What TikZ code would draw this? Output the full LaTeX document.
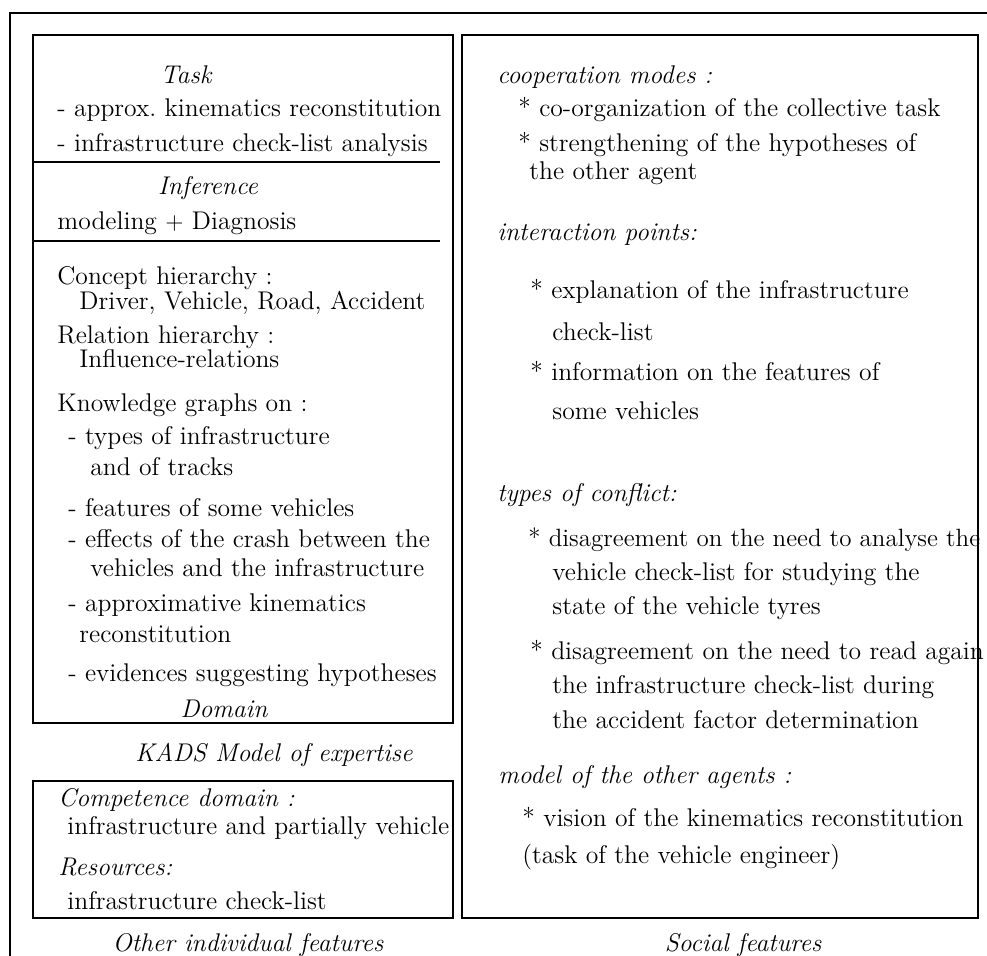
\documentclass[tikz,border=0pt]{standalone}
\usepackage{tikz}
\def\fsz{\fontsize{12.8}{15}\selectfont}
\tikzstyle{txt} = [anchor=west, inner sep=0pt, font=\fsz]
\tikzstyle{hd} = [anchor=west, inner sep=0pt, font=\fsz\itshape]
\tikzstyle{title} = [inner sep=0pt, font=\fsz\itshape]
\tikzstyle{frame} = [draw=black, line width=1.1pt]

\begin{document}
\begin{tikzpicture}[x=0.5pt, y=-0.5pt]
\useasboundingbox (0,0) rectangle (987,956);
\draw [line width=0.8pt] (10,956) -- (10,13) -- (987,13);

% KADS model
\draw [frame] (33,35) rectangle (453,723);
\draw [frame] (33,162) -- (440,162);
\draw [frame] (33,241) -- (440,241);
\node (task) [title] at (186,75) {Task};
\node (approx) [txt] at (57,110) {- approx.\ kinematics reconstitution};
\node (checkan) [txt] at (57,145) {- infrastructure check-list analysis};
\node (inference) [title] at (208,188) {Inference};
\node (modeling) [txt] at (57,223) {modeling $+$ Diagnosis};
\node (concept) [txt] at (57,278) {Concept hierarchy :};
\node (concepts) [txt] at (79,303) {Driver, Vehicle, Road, Accident};
\node (relation) [txt] at (57,337) {Relation hierarchy :};
\node (influence) [txt] at (79,359) {Influence-relations};
\node (graphs) [txt] at (57,405) {Knowledge graphs on :};
\node (types) [txt] at (68,438) {- types of infrastructure};
\node (tracks) [txt] at (90,467) {and of tracks};
\node (features) [txt] at (68,508) {- features of some vehicles};
\node (effects) [txt] at (68,539) {- effects of the crash between the};
\node (effects2) [txt] at (90,568) {vehicles and the infrastructure};
\node (kinem) [txt] at (68,605) {- approximative kinematics};
\node (kinem2) [txt] at (79,634) {reconstitution};
\node (evid) [txt] at (68,675) {- evidences suggesting hypotheses};
\node (domain) [title] at (224,709) {Domain};
\node (kads) [title] at (274,755) {KADS Model of expertise};

% other individual features
\draw [frame] (33,781) rectangle (453,918);
\node (compet) [hd] at (58,800) {Competence domain :};
\node (compet2) [txt] at (67,828) {infrastructure and partially vehicle};
\node (resour) [hd] at (58,867) {Resources:};
\node (resour2) [txt] at (67,901) {infrastructure check-list};
\node (other) [title] at (248,945) {Other individual features};

% social features
\draw [frame] (462,35) rectangle (978,918);
\node (coop) [hd] at (497,77) {cooperation modes :};
\node (coop1) [txt] at (518,110) {* co-organization of the collective task};
\node (coop2) [txt] at (518,145) {* strengthening of the hypotheses of};
\node (coop2b) [txt] at (529,173) {the other agent};
\node (inter) [hd] at (497,235) {interaction points:};
\node (inter1) [txt] at (530,291) {* explanation of the infrastructure};
\node (inter1b) [txt] at (552,332) {check-list};
\node (inter2) [txt] at (530,371) {* information on the features of};
\node (inter2b) [txt] at (552,411) {some vehicles};
\node (confl) [hd] at (497,495) {types of conflict:};
\node (confl1) [txt, font=\fontsize{12.5}{15}\selectfont] at (528,540) {* disagreement on the need to analyse the};
\node (confl1b) [txt] at (552,574) {vehicle check-list for studying the};
\node (confl1c) [txt] at (552,608) {state of the vehicle tyres};
\node (confl2) [txt] at (530,653) {* disagreement on the need to read again};
\node (confl2b) [txt] at (552,687) {the infrastructure check-list during};
\node (confl2c) [txt] at (552,720) {the accident factor determination};
\node (agents) [hd] at (498,777) {model of the other agents :};
\node (agents1) [txt] at (522,817) {* vision of the kinematics reconstitution};
\node (agents1b) [txt] at (522,857) {(task of the vehicle engineer)};
\node (social) [title] at (743,945) {Social features};

\end{tikzpicture}
\end{document}
